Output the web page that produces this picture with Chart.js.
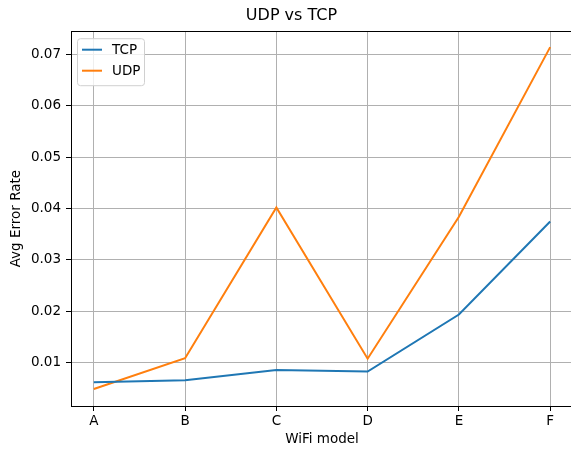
<!DOCTYPE html>
<html>
<head>
<meta charset="utf-8">
<script src="https://cdn.jsdelivr.net/npm/chart.js@4"></script>
<style>
  html, body { margin: 0; padding: 0; background: #fff; overflow: hidden; }
  #wrap { width: 571px; height: 450px; overflow: hidden; }
</style>
</head>
<body>
<div id="wrap"><canvas id="myChart" width="580" height="450"></canvas></div>
<script>
// data
const models = ['A', 'B', 'C', 'D', 'E', 'F'];
const tcpRate = [0.0062, 0.0066, 0.0086, 0.0083, 0.0194, 0.0375];
const udpRate = [0.0049, 0.0109, 0.0402, 0.0108, 0.0384, 0.0714];
const yTicks = [0.01, 0.02, 0.03, 0.04, 0.05, 0.06, 0.07];

const FONT = 'DejaVu Sans';
const ctx = document.querySelector('#myChart').getContext('2d');

function points(values) {
  return values.map((v, i) => ({ x: i, y: v }));
}

// top + right spine, matplotlib style
const frame = {
  id: 'frame',
  afterDatasetsDraw(chart) {
    const { ctx, chartArea: a } = chart;
    ctx.save();
    ctx.strokeStyle = '#000';
    ctx.lineWidth = 1;
    ctx.strokeRect(Math.round(a.left) + 0.5, Math.round(a.top) + 0.5,
      Math.round(a.right - a.left), Math.round(a.bottom - a.top));
    ctx.restore();
  }
};

// legend box in the upper left of the axes
const boxLegend = {
  id: 'boxLegend',
  afterDraw(chart) {
    const { ctx, chartArea: a } = chart;
    const x = a.left + 6, y = a.top + 7;
    const w = 67, h = 47;
    ctx.save();
    ctx.fillStyle = 'rgba(255,255,255,0.8)';
    ctx.strokeStyle = '#d0d0d0';
    ctx.lineWidth = 1;
    ctx.beginPath();
    ctx.roundRect(x + 0.5, y + 0.5, w, h, 3);
    ctx.fill();
    ctx.stroke();
    ctx.font = '13.5px "' + FONT + '"';
    ctx.textBaseline = 'middle';
    ctx.fillStyle = '#000';
    chart.data.datasets.forEach((ds, i) => {
      const ly = y + 11.5 + i * 21;
      ctx.strokeStyle = ds.borderColor;
      ctx.lineWidth = 2;
      ctx.beginPath();
      ctx.moveTo(x + 5, ly);
      ctx.lineTo(x + 25, ly);
      ctx.stroke();
      ctx.fillText(ds.label, x + 35, ly + 1);
    });
    ctx.restore();
  }
};

const config = {
  type: 'line',
  data: {
    datasets: [
      { label: 'TCP', data: points(tcpRate), borderColor: '#1f77b4', backgroundColor: '#1f77b4' },
      { label: 'UDP', data: points(udpRate), borderColor: '#ff7f0e', backgroundColor: '#ff7f0e' }
    ]
  },
  options: {
    responsive: false,
    animation: false,
    // left padding only moves the title centre; y axis width compensates
    layout: { padding: { left: 10, right: 7, top: 0, bottom: 0 } },
    elements: {
      line: { borderWidth: 2, tension: 0 },
      point: { radius: 0 }
    },
    plugins: {
      legend: { display: false },
      tooltip: { enabled: false },
      title: {
        display: true,
        text: 'UDP vs TCP',
        color: '#000',
        font: { family: FONT, size: 16, weight: 'normal', lineHeight: 1.2 },
        padding: { top: 6, bottom: 6 }
      }
    },
    scales: {
      x: {
        type: 'linear',
        min: -0.25,
        max: 5.25,
        afterBuildTicks: (s) => { s.ticks = models.map((m, i) => ({ value: i })); },
        afterFit: (s) => { s.height = 44; },
        ticks: {
          callback: (v) => models[v],
          color: '#000',
          padding: 2,
          maxRotation: 0,
          font: { family: FONT, size: 13.5 }
        },
        grid: { color: '#b0b0b0', lineWidth: 1, tickColor: '#000', tickLength: 5, tickWidth: 1 },
        border: { color: '#000', width: 1 },
        title: {
          display: true,
          text: 'WiFi model',
          color: '#000',
          padding: { top: 2, bottom: 2 },
          font: { family: FONT, size: 13.5 }
        }
      },
      y: {
        min: 0.0016,
        max: 0.0745,
        afterBuildTicks: (s) => { s.ticks = yTicks.map(v => ({ value: v })); },
        afterFit: (s) => { s.width = 61; },
        ticks: {
          callback: (v) => v.toFixed(2),
          color: '#000',
          padding: 5,
          font: { family: FONT, size: 13.5 }
        },
        grid: { color: '#b0b0b0', lineWidth: 1, tickColor: '#000', tickLength: 5, tickWidth: 1 },
        border: { color: '#000', width: 1 },
        title: {
          display: true,
          text: 'Avg Error Rate',
          color: '#000',
          padding: { top: -2, bottom: 2 },
          font: { family: FONT, size: 13.5 }
        }
      }
    }
  },
  plugins: [frame, boxLegend]
};

const chart = new Chart(ctx, config);
</script>
</body>
</html>
